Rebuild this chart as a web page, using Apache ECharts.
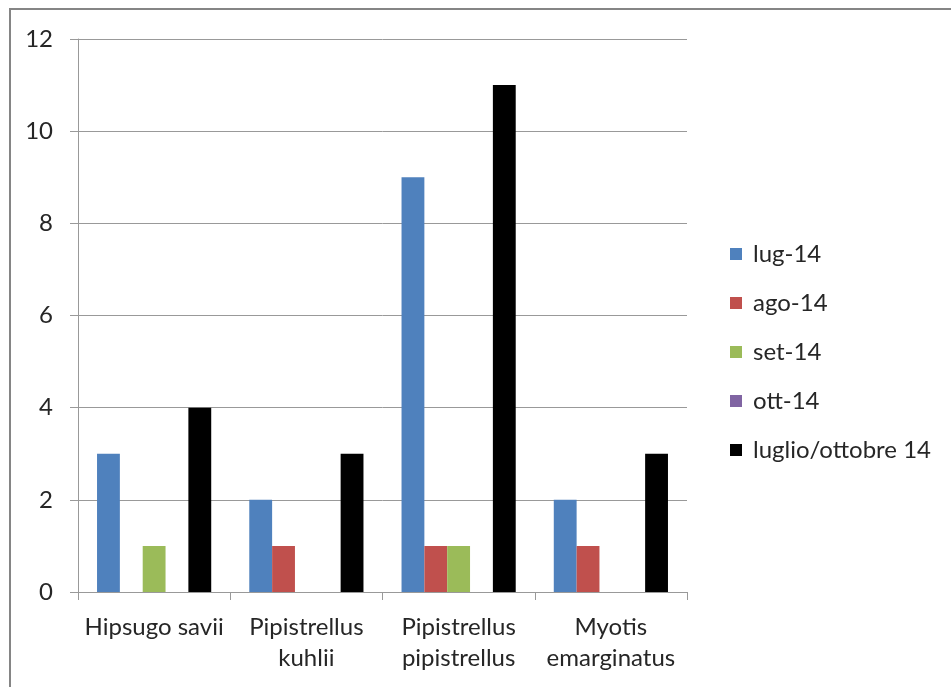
<!DOCTYPE html>
<html>
<head>
<meta charset="utf-8">
<script src="https://cdn.jsdelivr.net/npm/echarts@6/dist/echarts.min.js"></script>
<style>
  html, body { margin: 0; padding: 0; background: #fff; }
  #chart { width: 951px; height: 687px; }
</style>
</head>
<body>
<div id="chart"></div>
<script>
const categories = ["Hipsugo savii", "Pipistrellus\nkuhlii", "Pipistrellus\npipistrellus", "Myotis\nemarginatus"];
const seriesNames = ["lug-14", "ago-14", "set-14", "ott-14", "luglio/ottobre 14"];
const lug14 = [3, 2, 9, 2];
const ago14 = [0, 1, 1, 1];
const set14 = [1, 0, 1, 0];
const ott14 = [0, 0, 0, 0];
const totale = [4, 3, 11, 3];
const colors = ["#4F81BD", "#C0504D", "#9BBB59", "#8064A2", "#000000"];

const values = [lug14, ago14, set14, ott14, totale];
const font = "Lato, 'Open Sans', sans-serif";

const myChart = echarts.init(document.getElementById("chart"));
const option = {
  animation: false,
  backgroundColor: "#fff",
  color: colors,
  graphic: [{
    type: "rect",
    shape: { x: 10, y: 9, width: 960, height: 700 },
    style: { fill: "none", stroke: "#858585", lineWidth: 2 },
    silent: true
  }],
  grid: { left: 78, right: 264, top: 39, bottom: 95 },
  legend: {
    orient: "vertical",
    left: 725,
    top: 237,
    itemWidth: 12,
    itemHeight: 12,
    itemGap: 25,
    itemStyle: { borderWidth: 0 },
    textStyle: { fontFamily: font, fontSize: 24, color: "#262626", lineHeight: 20, padding: [0, 0, 0, 6] },
    icon: "rect",
    data: seriesNames
  },
  xAxis: {
    type: "category",
    data: categories,
    axisLine: { lineStyle: { color: "#999", width: 1 } },
    axisTick: { show: true, length: 8, lineStyle: { color: "#999" } },
    axisLabel: {
      interval: 0,
      margin: 20,
      fontFamily: font,
      fontSize: 24,
      color: "#262626",
      lineHeight: 31
    }
  },
  yAxis: {
    type: "value",
    min: 0,
    max: 12,
    interval: 2,
    axisLine: { show: true, lineStyle: { color: "#999", width: 1 } },
    axisTick: { show: true, length: 8, lineStyle: { color: "#999" } },
    splitLine: { lineStyle: { color: "#999", width: 1 } },
    axisLabel: { margin: 25, fontFamily: font, fontSize: 24, color: "#262626" }
  },
  series: seriesNames.map((name, i) => ({
    name: name,
    type: "bar",
    data: values[i],
    barGap: "0%",
    barCategoryGap: "25%"
  }))
};
option && myChart.setOption(option);
</script>
</body>
</html>
